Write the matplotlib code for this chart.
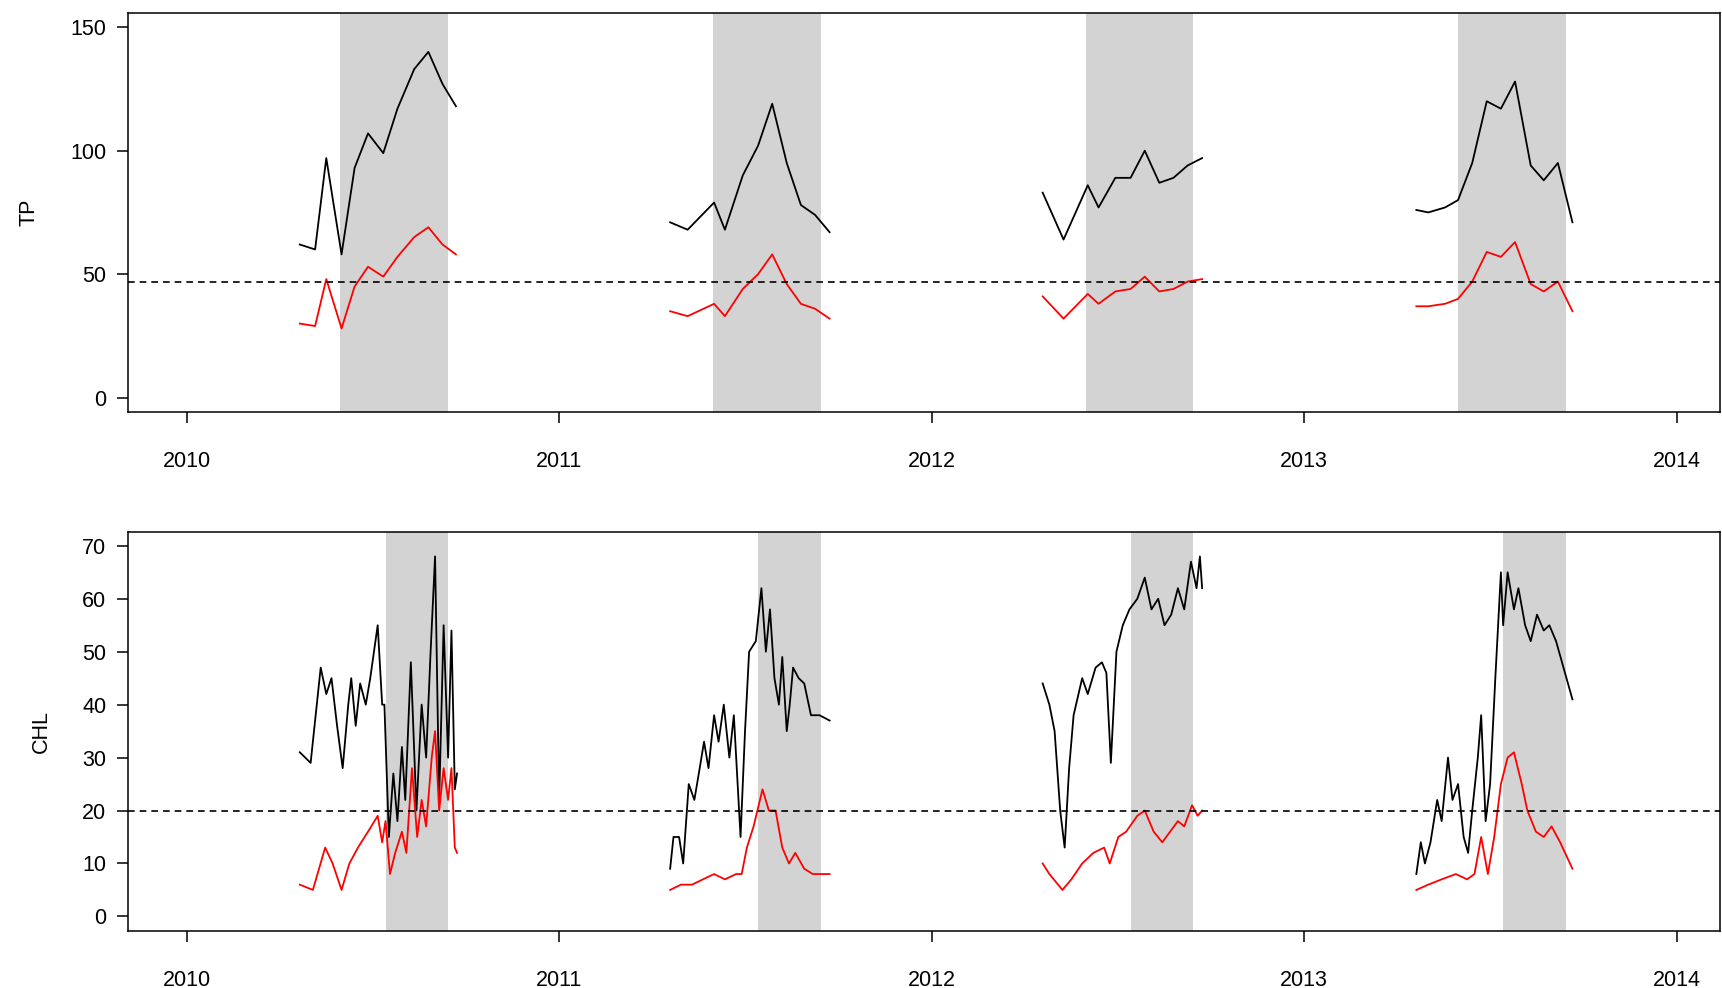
import numpy as np
import matplotlib.pyplot as plt

plt.rcParams['font.family'] = ['Liberation Sans', 'DejaVu Sans']
plt.rcParams['font.size'] = 15.5

years = [2010, 2011, 2012, 2013]

# TP (fraction of year, black series, red series)
tp_t = [
    [0.304, 0.345, 0.375, 0.416, 0.451, 0.487, 0.528, 0.566, 0.611, 0.649, 0.687, 0.723],
    [0.298, 0.345, 0.416, 0.445, 0.493, 0.534, 0.572, 0.611, 0.649, 0.687, 0.726],
    [0.298, 0.354, 0.419, 0.448, 0.493, 0.534, 0.572, 0.611, 0.649, 0.687, 0.726],
    [0.301, 0.333, 0.378, 0.413, 0.451, 0.490, 0.528, 0.566, 0.608, 0.643, 0.681, 0.720],
]
tp_black = [
    [62, 60, 97, 58, 93, 107, 99, 117, 133, 140, 127, 118],
    [71, 68, 79, 68, 90, 102, 119, 95, 78, 74, 67],
    [83, 64, 86, 77, 89, 89, 100, 87, 89, 94, 97],
    [76, 75, 77, 80, 95, 120, 117, 128, 94, 88, 95, 71],
]
tp_red = [
    [30, 29, 48, 28, 45, 53, 49, 57, 65, 69, 62, 58],
    [35, 33, 38, 33, 44, 50, 58, 46, 38, 36, 32],
    [41, 32, 42, 38, 43, 44, 49, 43, 44, 47, 48],
    [37, 37, 38, 40, 47, 59, 57, 63, 46, 43, 47, 35],
]

# CHL black
chl_bt = [
    [0.304, 0.333, 0.360, 0.375, 0.389, 0.404, 0.419, 0.434, 0.442, 0.454, 0.466, 0.481, 0.493, 0.513, 0.525, 0.531,
     0.543, 0.555, 0.566, 0.578, 0.587, 0.602, 0.617, 0.631, 0.643, 0.655, 0.667, 0.678, 0.690, 0.702, 0.711, 0.720, 0.726],
    [0.298, 0.307, 0.322, 0.333, 0.348, 0.363, 0.375, 0.389, 0.401, 0.416, 0.428, 0.442, 0.457, 0.469, 0.487, 0.499,
     0.510, 0.528, 0.543, 0.555, 0.566, 0.578, 0.590, 0.599, 0.611, 0.619, 0.628, 0.643, 0.658, 0.676, 0.699, 0.726],
    [0.298, 0.316, 0.330, 0.345, 0.357, 0.369, 0.381, 0.404, 0.419, 0.440, 0.457, 0.469, 0.481, 0.496, 0.513, 0.531,
     0.552, 0.572, 0.590, 0.608, 0.625, 0.643, 0.661, 0.678, 0.696, 0.711, 0.720, 0.726],
    [0.301, 0.313, 0.324, 0.339, 0.357, 0.369, 0.386, 0.398, 0.413, 0.428, 0.440, 0.451, 0.466, 0.475, 0.487, 0.499,
     0.513, 0.528, 0.534, 0.546, 0.563, 0.575, 0.593, 0.608, 0.625, 0.643, 0.658, 0.676, 0.696, 0.720],
]
chl_bv = [
    [31, 29, 47, 42, 45, 36, 28, 40, 45, 36, 44, 40, 45, 55, 40, 40, 15, 27, 18, 32, 22, 48, 20, 40, 30, 50, 68, 22, 55,
     30, 54, 24, 27],
    [9, 15, 15, 10, 25, 22, 27, 33, 28, 38, 33, 40, 30, 38, 15, 35, 50, 52, 62, 50, 58, 45, 40, 49, 35, 40, 47, 45, 44,
     38, 38, 37],
    [44, 40, 35, 20, 13, 28, 38, 45, 42, 47, 48, 46, 29, 50, 55, 58, 60, 64, 58, 60, 55, 57, 62, 58, 67, 62, 68, 62],
    [8, 14, 10, 14, 22, 18, 30, 22, 25, 15, 12, 20, 30, 38, 18, 25, 45, 65, 55, 65, 58, 62, 55, 52, 57, 54, 55, 52, 47,
     41],
]
# CHL red
chl_rt = [
    [0.304, 0.339, 0.372, 0.392, 0.416, 0.437, 0.460, 0.487, 0.513, 0.525, 0.534, 0.546, 0.560, 0.578, 0.590, 0.605,
     0.619, 0.631, 0.643, 0.658, 0.667, 0.678, 0.690, 0.702, 0.711, 0.720, 0.726],
    [0.298, 0.327, 0.357, 0.386, 0.416, 0.445, 0.475, 0.490, 0.504, 0.522, 0.546, 0.563, 0.581, 0.599, 0.617, 0.634,
     0.658, 0.681, 0.726],
    [0.298, 0.316, 0.351, 0.375, 0.404, 0.434, 0.463, 0.478, 0.501, 0.522, 0.552, 0.572, 0.596, 0.619, 0.640, 0.661,
     0.678, 0.699, 0.714, 0.726],
    [0.301, 0.333, 0.369, 0.407, 0.437, 0.457, 0.475, 0.493, 0.510, 0.528, 0.546, 0.563, 0.584, 0.599, 0.622, 0.643,
     0.664, 0.687, 0.720],
]
chl_rv = [
    [6, 5, 13, 10, 5, 10, 13, 16, 19, 14, 18, 8, 12, 16, 12, 28, 15, 22, 17, 30, 35, 20, 28, 22, 28, 13, 12],
    [5, 6, 6, 7, 8, 7, 8, 8, 13, 17, 24, 20, 20, 13, 10, 12, 9, 8, 8],
    [10, 8, 5, 7, 10, 12, 13, 10, 15, 16, 19, 20, 16, 14, 16, 18, 17, 21, 19, 20],
    [5, 6, 7, 8, 7, 8, 15, 8, 15, 25, 30, 31, 25, 20, 16, 15, 17, 14, 9],
]

tp_shade = (0.413, 0.702)
chl_shade = (0.534, 0.702)
tp_thresh = 47
chl_thresh = 20

fig = plt.figure(figsize=(17.22, 9.88), dpi=100)
ax1 = fig.add_axes([0.0746, 0.583, 0.924, 0.404])
ax2 = fig.add_axes([0.0746, 0.058, 0.924, 0.404])


def draw(ax, shade, tb, bb, tr, br, thresh):
    for i, y in enumerate(years):
        ax.axvspan(y + shade[0], y + shade[1], color='lightgray', lw=0)
        ax.plot(y + np.array(tb[i]), bb[i], color='black', lw=1.3)
        ax.plot(y + np.array(tr[i]), br[i], color='red', lw=1.3)
    ax.axhline(thresh, color='black', ls='--', lw=1.2, dashes=(4, 3))
    ax.set_xlim(2009.844, 2014.115)
    ax.set_xticks([2010, 2011, 2012, 2013, 2014])
    ax.tick_params(direction='out', length=8, width=1.1)
    ax.tick_params(axis='x', pad=20)
    ax.tick_params(axis='y', pad=8)
    for s in ax.spines.values():
        s.set_linewidth(1.1)


draw(ax1, tp_shade, tp_t, tp_black, tp_t, tp_red, tp_thresh)
ax1.set_ylim(-5.8, 155.8)
ax1.set_yticks([0, 50, 100, 150])
ax1.set_ylabel('TP', labelpad=22)

draw(ax2, chl_shade, chl_bt, chl_bv, chl_rt, chl_rv, chl_thresh)
ax2.set_ylim(-2.7, 72.7)
ax2.set_yticks(range(0, 71, 10))
ax2.set_ylabel('CHL', labelpad=22)

fig.savefig('out.png', dpi=100)
